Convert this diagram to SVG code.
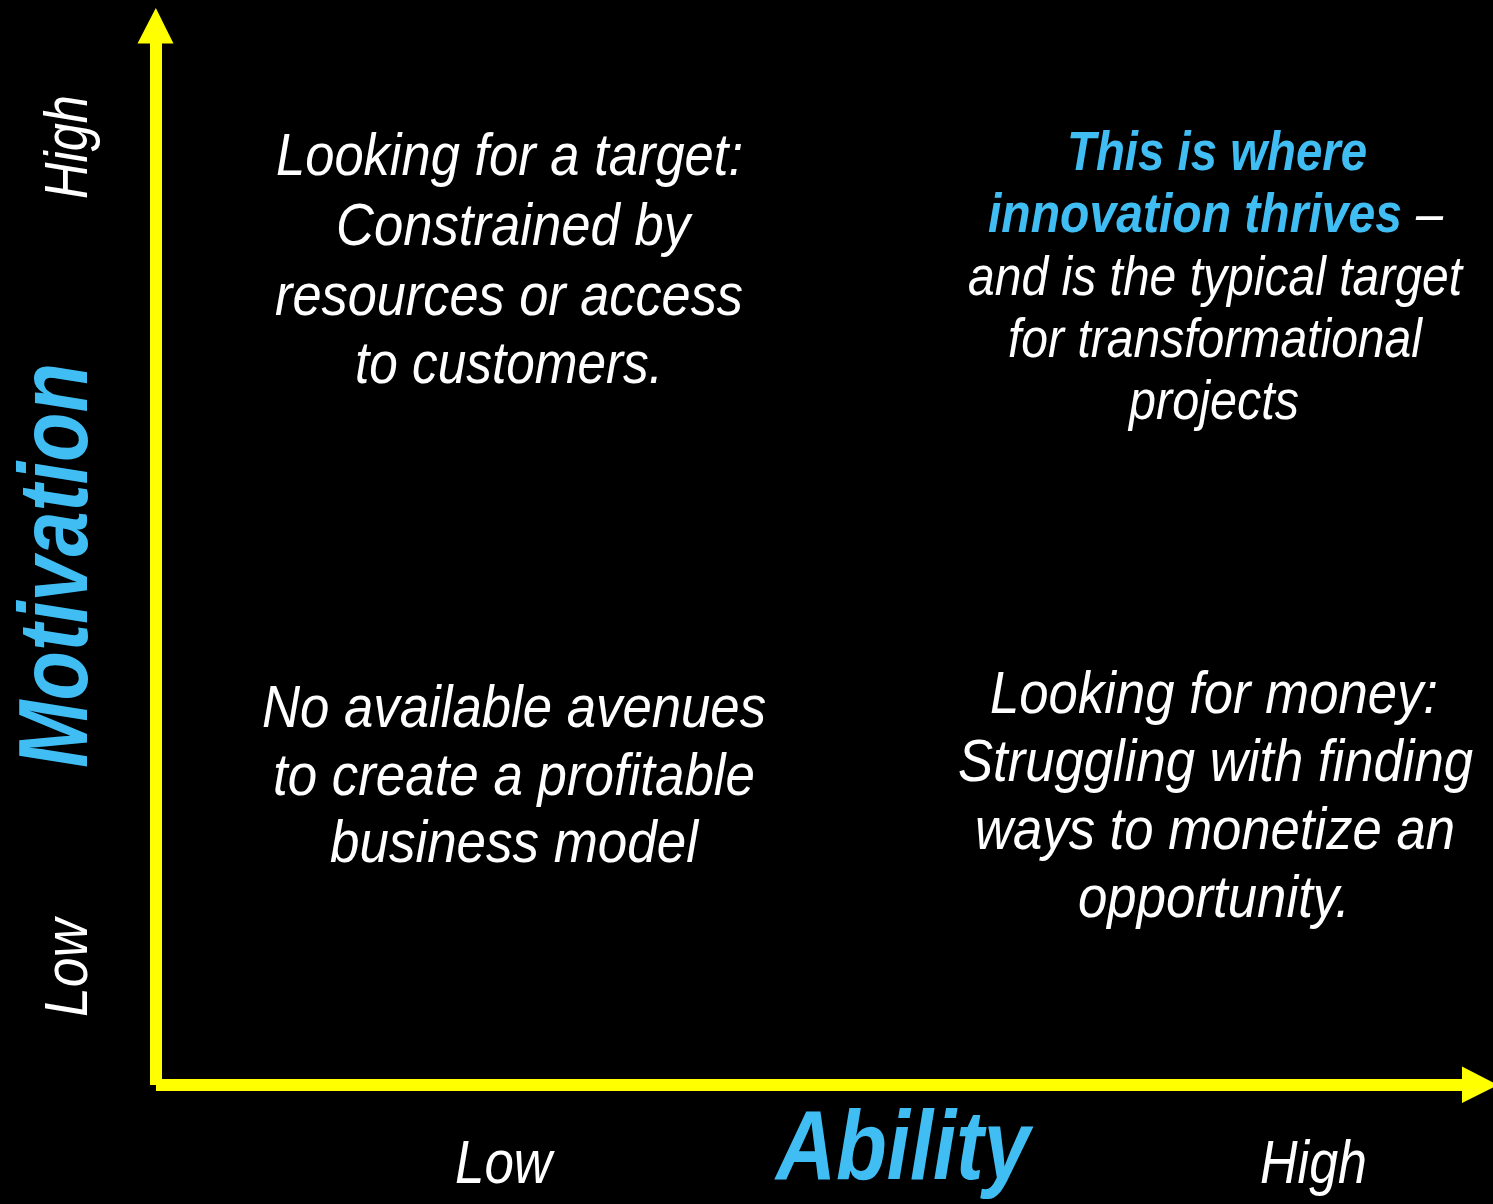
<svg xmlns="http://www.w3.org/2000/svg" width="1493" height="1204" viewBox="0 0 1493 1204">
  <style>
    .t { font-family: "Liberation Sans Narrow", "Liberation Sans", Arial, sans-serif; font-style: italic; fill: #ffffff; }
    .q { font-size: 59px; }
    .qs { font-size: 55px; }
    .hl { fill: #40bef4; font-weight: bold; }
    .lvl { font-size: 61px; }
    .axis-title { font-size: 98px; font-weight: bold; fill: #40bef4; }
    .axis { fill: #ffff00; }
  </style>
  <rect x="0" y="0" width="1493" height="1204" fill="#000000"/>

  <!-- axes -->
  <g id="connectors">
    <rect class="axis" x="150" y="42" width="12" height="1043"/>
    <polygon class="axis" points="137.5,43.5 155.8,8 173.5,43.5"/>
    <rect class="axis" x="156" y="1079" width="1307" height="12"/>
    <polygon class="axis" points="1462,1066.5 1498,1085 1462,1103"/>
  </g>

  <!-- axis titles and level labels -->
  <g id="axis-y">
    <text class="t axis-title" transform="translate(87,768) rotate(-90)" textLength="405" lengthAdjust="spacingAndGlyphs">Motivation</text>
    <text class="t lvl" transform="translate(87,199) rotate(-90)" textLength="104" lengthAdjust="spacingAndGlyphs">High</text>
    <text class="t lvl" transform="translate(87,1017) rotate(-90)" textLength="98" lengthAdjust="spacingAndGlyphs">Low</text>
  </g>
  <g id="axis-x">
    <text class="t axis-title" x="776" y="1179" textLength="254" lengthAdjust="spacingAndGlyphs">Ability</text>
    <text class="t lvl" x="455" y="1183" textLength="97" lengthAdjust="spacingAndGlyphs">Low</text>
    <text class="t lvl" x="1260" y="1183" textLength="107" lengthAdjust="spacingAndGlyphs">High</text>
  </g>

  <!-- quadrant: high motivation, low ability -->
  <g id="quadrant-top-left">
    <text class="t q" x="276" y="175" textLength="467" lengthAdjust="spacingAndGlyphs">Looking for a target:</text>
    <text class="t q" x="336" y="245" textLength="354" lengthAdjust="spacingAndGlyphs">Constrained by</text>
    <text class="t q" x="275" y="315" textLength="468" lengthAdjust="spacingAndGlyphs">resources or access</text>
    <text class="t q" x="355" y="383" textLength="308" lengthAdjust="spacingAndGlyphs">to customers.</text>
  </g>

  <!-- quadrant: high motivation, high ability -->
  <g id="quadrant-top-right">
    <text class="t qs hl" x="1067" y="170" textLength="300" lengthAdjust="spacingAndGlyphs">This is where</text>
    <text class="t qs hl" x="988" y="232" textLength="414" lengthAdjust="spacingAndGlyphs">innovation thrives</text>
    <text class="t qs" x="1416" y="232" textLength="27" lengthAdjust="spacingAndGlyphs">–</text>
    <text class="t qs" x="968" y="295" textLength="494" lengthAdjust="spacingAndGlyphs">and is the typical target</text>
    <text class="t qs" x="1008" y="357" textLength="414" lengthAdjust="spacingAndGlyphs">for transformational</text>
    <text class="t qs" x="1129" y="419" textLength="170" lengthAdjust="spacingAndGlyphs">projects</text>
  </g>

  <!-- quadrant: low motivation, low ability -->
  <g id="quadrant-bottom-left">
    <text class="t q" x="262" y="727" textLength="504" lengthAdjust="spacingAndGlyphs">No available avenues</text>
    <text class="t q" x="273" y="795" textLength="482" lengthAdjust="spacingAndGlyphs">to create a profitable</text>
    <text class="t q" x="330" y="862" textLength="368" lengthAdjust="spacingAndGlyphs">business model</text>
  </g>

  <!-- quadrant: low motivation, high ability -->
  <g id="quadrant-bottom-right">
    <text class="t q" x="990" y="713" textLength="448" lengthAdjust="spacingAndGlyphs">Looking for money:</text>
    <text class="t q" x="958" y="781" textLength="515" lengthAdjust="spacingAndGlyphs">Struggling with finding</text>
    <text class="t q" x="975" y="849" textLength="480" lengthAdjust="spacingAndGlyphs">ways to monetize an</text>
    <text class="t q" x="1078" y="917" textLength="272" lengthAdjust="spacingAndGlyphs">opportunity.</text>
  </g>
</svg>
